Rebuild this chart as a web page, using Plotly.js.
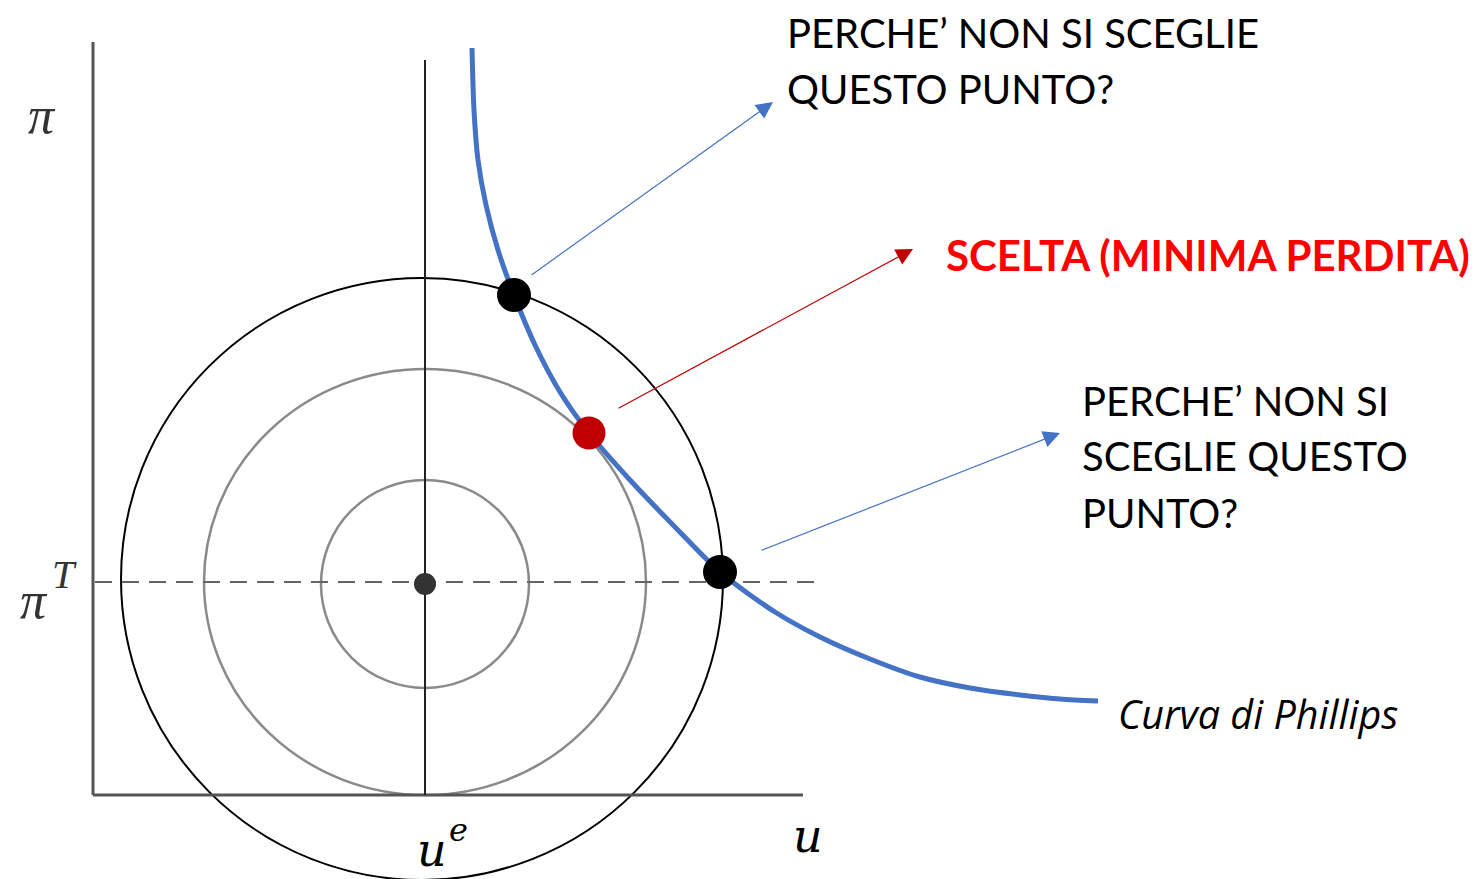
<!DOCTYPE html>
<html>
<head>
<meta charset="utf-8">
<script src="https://cdn.plot.ly/plotly-3.0.1.min.js"></script>
<style>html,body{margin:0;padding:0;background:#fff;}#chart{width:1475px;height:879px;}</style>
</head>
<body>
<div id="chart"></div>
<script>
// Diagram coordinates (u horizontal, pi vertical, pi axis drawn downward)
const curveU  = [472, 474, 478, 486, 498, 514, 535, 560, 589, 630, 675, 720, 775, 820, 870, 920, 970, 1020, 1060, 1098];
const curvePi = [48, 110, 160, 205, 250, 295, 345, 392, 433, 480, 527, 572, 612, 637, 659, 677, 688, 695, 699, 701];

const circleU   = [425, 425, 422];
const circlePi  = [584, 582, 579];
const circleRU  = [104, 221, 301];
const circleRPi = [104, 213, 301];

const pointU  = [514, 589, 720];
const pointPi = [295, 433, 572];
const centerU = [425];
const centerPi = [584];

const axisOrigin = [93, 795];
const axisEnd = [803, 42];
const ueLine = [425, 60];
const targetPi = 582;
const dashEnd = 822;

const arrowFromU  = [530, 617, 760];
const arrowFromPi = [276, 409, 551];
const arrowToU    = [773, 913, 1060];
const arrowToPi   = [102, 249, 433];

const questionTop = ["PERCHE’ NON SI SCEGLIE", "QUESTO PUNTO?"];
const choiceLabel = "SCELTA (MINIMA PERDITA)";
const questionRight = ["PERCHE’ NON SI", "SCEGLIE QUESTO", "PUNTO?"];
const curveLabel = "Curva di Phillips";

const BLUE = '#4472C4', RED = '#C00000';
const traces = [];

traces.push({x: curveU, y: curvePi, mode: 'lines', line: {color: BLUE, width: 5, shape: 'spline', smoothing: 0.8}, hoverinfo: 'skip'});
traces.push({x: centerU, y: centerPi, mode: 'markers', marker: {color: '#333', size: 22}, hoverinfo: 'skip'});
traces.push({x: [pointU[0], pointU[2]], y: [pointPi[0], pointPi[2]], mode: 'markers', marker: {color: '#000', size: 34}, hoverinfo: 'skip'});
traces.push({x: [pointU[1]], y: [pointPi[1]], mode: 'markers', marker: {color: RED, size: 33}, hoverinfo: 'skip'});

const shapes = [];
const circColors = ['#8a8a8a', '#8a8a8a', '#000'];
const circWidths = [2.5, 2.5, 2];
for (let i = 0; i < circleU.length; i++) {
  shapes.push({type: 'circle', xref: 'x', yref: 'y', layer: 'below',
    x0: circleU[i] - circleRU[i], x1: circleU[i] + circleRU[i],
    y0: circlePi[i] - circleRPi[i], y1: circlePi[i] + circleRPi[i],
    line: {color: circColors[i], width: circWidths[i]}});
}
shapes.push({type: 'line', xref: 'x', yref: 'y', layer: 'below', x0: axisOrigin[0], x1: axisOrigin[0], y0: axisEnd[1], y1: axisOrigin[1], line: {color: '#555', width: 3}});
shapes.push({type: 'line', xref: 'x', yref: 'y', layer: 'below', x0: axisOrigin[0], x1: axisEnd[0], y0: axisOrigin[1], y1: axisOrigin[1], line: {color: '#555', width: 3}});
shapes.push({type: 'line', xref: 'x', yref: 'y', layer: 'below', x0: ueLine[0], x1: ueLine[0], y0: ueLine[1], y1: axisOrigin[1], line: {color: '#222', width: 2}});
shapes.push({type: 'line', xref: 'x', yref: 'y', layer: 'below', x0: axisOrigin[0] + 2, x1: dashEnd, y0: targetPi, y1: targetPi, line: {color: '#666', width: 2, dash: '17px,10px'}});

const annotations = [];
const arrowColors = [BLUE, RED, BLUE];
for (let i = 0; i < arrowFromU.length; i++) {
  annotations.push({x: arrowToU[i], y: arrowToPi[i], ax: arrowFromU[i], ay: arrowFromPi[i],
    xref: 'x', yref: 'y', axref: 'x', ayref: 'y', text: '', showarrow: true,
    arrowhead: 2, arrowsize: 2.8, arrowwidth: 1.2, arrowcolor: arrowColors[i]});
}
const textFont = {family: 'Lato, Carlito, "Open Sans", sans-serif', size: 40, color: '#000'};
const addText = (txt, x, y, font) => annotations.push({x: x, y: y, xref: 'x', yref: 'y', text: txt, showarrow: false, xanchor: 'left', yanchor: 'middle', font: font});
addText(questionTop[0], 785, 33, textFont);
addText(questionTop[1], 785, 89, textFont);
addText('<b>' + choiceLabel + '</b>', 944, 255, Object.assign({}, textFont, {size: 42, color: '#FF0000'}));
addText(questionRight[0], 1080, 401, textFont);
addText(questionRight[1], 1080, 456, textFont);
addText(questionRight[2], 1080, 513, textFont);
addText('<i>' + curveLabel + '</i>', 1116, 714, Object.assign({}, textFont, {family: '"Open Sans", Lato, sans-serif', size: 39.5}));

const mathFont = {family: '"DejaVu Serif", "Liberation Serif", serif', size: 46, color: '#222'};
const mathText = (txt, x, y, size, col, fam) => annotations.push({x: x, y: y, xref: 'x', yref: 'y', text: '<i>' + txt + '</i>', showarrow: false, xanchor: 'center', yanchor: 'middle', font: Object.assign({}, mathFont, {size: size, color: col || '#222', family: fam || mathFont.family})});
const PIFONT = '"Liberation Serif", "DejaVu Serif", serif';
mathText('π', 42, 115, 52, '#333', PIFONT);
mathText('π', 34, 600, 52, '#333', PIFONT);
mathText('T', 64, 574, 40, '#333', PIFONT);
mathText('u', 432, 850, 46, '#000');
mathText('e', 458, 830, 32, '#000');
mathText('u', 808, 836, 46, '#000');

const layout = {
  width: 1475, height: 879,
  margin: {l: 0, r: 0, t: 0, b: 0},
  paper_bgcolor: '#fff', plot_bgcolor: '#fff',
  showlegend: false,
  xaxis: {range: [0, 1475], visible: false, fixedrange: true},
  yaxis: {range: [879, 0], visible: false, fixedrange: true},
  shapes: shapes,
  annotations: annotations
};
Plotly.newPlot('chart', traces, layout, {staticPlot: true, displayModeBar: false});
</script>
</body>
</html>
